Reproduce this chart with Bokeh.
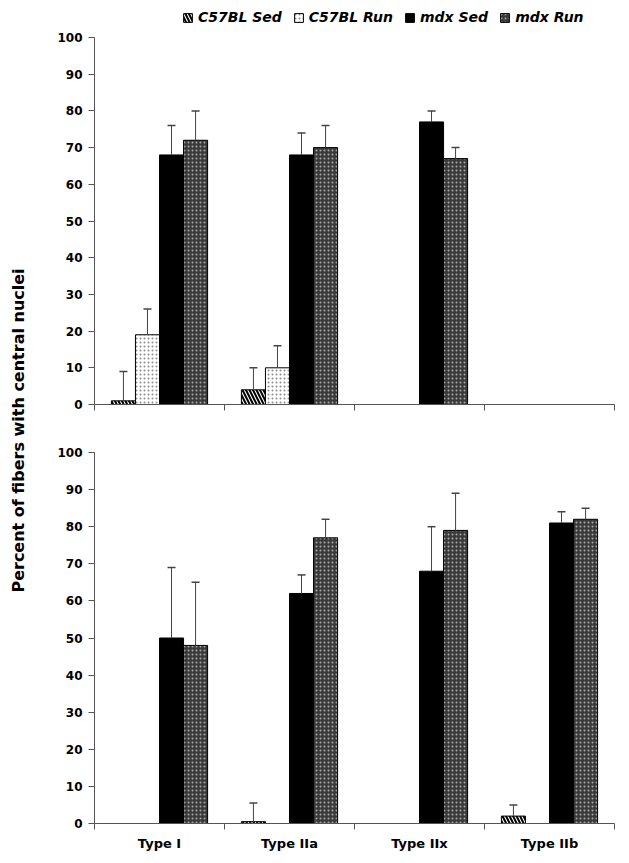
from bokeh.plotting import figure
from bokeh.models import (ColumnDataSource, Range1d, FixedTicker, Legend, LegendItem,
                          Whisker, TeeHead, Label)
from bokeh.transform import dodge
from bokeh.layouts import row, column
from bokeh.embed import file_html
from bokeh.resources import INLINE

categories = ["Type I", "Type IIa", "Type IIx", "Type IIb"]
series = ["C57BL Sed", "C57BL Run", "mdx Sed", "mdx Run"]

# top panel values / upper errors
top_c57_sed = [1, 4, None, None]
top_c57_sed_err = [8, 6, None, None]
top_c57_run = [19, 10, None, None]
top_c57_run_err = [7, 6, None, None]
top_mdx_sed = [68, 68, 77, None]
top_mdx_sed_err = [8, 6, 3, None]
top_mdx_run = [72, 70, 67, None]
top_mdx_run_err = [8, 6, 3, None]

# bottom panel values / upper errors
bot_c57_sed = [None, 0.5, None, 2]
bot_c57_sed_err = [None, 5, None, 3]
bot_c57_run = [None, None, None, None]
bot_c57_run_err = [None, None, None, None]
bot_mdx_sed = [50, 62, 68, 81]
bot_mdx_sed_err = [19, 5, 12, 3]
bot_mdx_run = [48, 77, 79, 82]
bot_mdx_run_err = [17, 5, 10, 3]

y_ticks = [0, 10, 20, 30, 40, 50, 60, 70, 80, 90, 100]

FONT = "DejaVu Sans"
BAR_W = 0.185
offsets = [-0.2775, -0.0925, 0.0925, 0.2775]
styles = [
    dict(fill_color="white", hatch_pattern="\\", hatch_color="black", hatch_scale=7, hatch_weight=2),
    dict(fill_color="white", hatch_pattern=".", hatch_color="#8a8a8a", hatch_scale=4, hatch_weight=1),
    dict(fill_color="black"),
    dict(fill_color="#3a3a3a", hatch_pattern=".", hatch_color="#a8a8a8", hatch_scale=4, hatch_weight=1),
]

LAB_W, LEFT, RIGHT, FW = 38, 56, 5, 520
PX_PER_UNIT = 3.67


def make_panel(data, frame_h, y_max, top_border, bottom_border, show_labels, with_legend):
    p = figure(width=LEFT + FW + RIGHT, height=top_border + frame_h + bottom_border,
               x_range=Range1d(0, 4), y_range=Range1d(0, y_max),
               output_backend="svg", toolbar_location=None,
               min_border_left=LEFT, min_border_right=RIGHT,
               min_border_top=top_border, min_border_bottom=bottom_border)
    p.outline_line_color = None
    p.xgrid.visible = False
    p.ygrid.visible = False
    p.background_fill_color = "white"
    p.border_fill_color = "white"

    renderers = []
    for k, (vals, errs) in enumerate(data):
        idx = [i for i, v in enumerate(vals) if v is not None]
        src = ColumnDataSource(dict(
            x=[i + 0.5 for i in idx],
            top=[vals[i] for i in idx],
            upper=[vals[i] + errs[i] for i in idx],
        ))
        r = p.vbar(x=dodge("x", offsets[k]), top="top", width=BAR_W, source=src,
                   line_color="black", line_width=1, **styles[k])
        renderers.append(r)
        if idx:
            w = Whisker(base=dodge("x", offsets[k]), lower="top", upper="upper", source=src,
                        dimension="height", line_color="#444444", line_width=1,
                        upper_head=TeeHead(size=8, line_color="#444444", line_width=1.5),
                        lower_head=None, level="overlay")
            p.add_layout(w)

    # y axis
    p.yaxis.ticker = FixedTicker(ticks=y_ticks)
    p.yaxis.bounds = (0, 100)
    p.yaxis.minor_tick_line_color = None
    p.yaxis.major_tick_in = 0
    p.yaxis.major_tick_out = 6
    p.yaxis.axis_line_color = "#555555"
    p.yaxis.major_tick_line_color = "#555555"
    p.yaxis.major_label_text_font = FONT
    p.yaxis.major_label_text_font_style = "bold"
    p.yaxis.major_label_text_font_size = "12px"
    p.yaxis.major_label_text_color = "black"
    p.yaxis.major_label_standoff = 6

    # x axis: labels at centers, ticks at boundaries (minor)
    centers = [i + 0.5 for i in range(len(categories))] if show_labels else []
    p.xaxis.ticker = FixedTicker(ticks=centers,
                                 minor_ticks=list(range(len(categories) + 1)))
    p.xaxis.major_label_overrides = {i + 0.5: c for i, c in enumerate(categories)}
    p.xaxis.major_tick_in = 0
    p.xaxis.major_tick_out = 0
    p.xaxis.minor_tick_in = 0
    p.xaxis.minor_tick_out = 6
    p.xaxis.minor_tick_line_color = "#555555"
    p.xaxis.axis_line_color = "#555555"
    p.xaxis.major_label_text_font = FONT
    p.xaxis.major_label_text_font_style = "bold"
    p.xaxis.major_label_text_font_size = "13px"
    p.xaxis.major_label_text_color = "black"
    p.xaxis.major_label_standoff = 6

    if with_legend:
        items = [LegendItem(label=s, renderers=[r]) for s, r in zip(series, renderers)]
        leg = Legend(items=items, orientation="horizontal", location=(88, frame_h - 17),
                     border_line_color=None, background_fill_alpha=0,
                     glyph_width=11, glyph_height=11, label_standoff=5, spacing=11,
                     padding=0, margin=0,
                     label_text_font=FONT, label_text_font_style="bold italic",
                     label_text_font_size="14px", label_height=14, label_text_color="black")
        p.add_layout(leg, "center")
    return p


# top panel: frame extends above 100 to make room for the legend
top_frame = 396
top_ymax = 100 + (top_frame - 367) / PX_PER_UNIT
top = make_panel([(top_c57_sed, top_c57_sed_err), (top_c57_run, top_c57_run_err),
                  (top_mdx_sed, top_mdx_sed_err), (top_mdx_run, top_mdx_run_err)],
                 top_frame, top_ymax, 8, 20, False, True)
bot = make_panel([(bot_c57_sed, bot_c57_sed_err), (bot_c57_run, bot_c57_run_err),
                  (bot_mdx_sed, bot_mdx_sed_err), (bot_mdx_run, bot_mdx_run_err)],
                 371, 100, 28, 36, True, False)

total_h = 8 + top_frame + 20 + 28 + 371 + 36
lab = figure(width=LAB_W, height=total_h, x_range=Range1d(0, LAB_W), y_range=Range1d(total_h, 0),
             output_backend="svg", toolbar_location=None, min_border=0)
lab.axis.visible = False
lab.grid.visible = False
lab.outline_line_color = None
lab.add_layout(Label(x=18, y=430, text="Percent of fibers with central nuclei",
                     angle=90, angle_units="deg", text_align="center", text_baseline="middle",
                     text_font=FONT, text_font_style="bold", text_font_size="16px",
                     text_color="black"))

layout = row(lab, column(top, bot))
open("out.html", "w").write(file_html(layout, INLINE))
